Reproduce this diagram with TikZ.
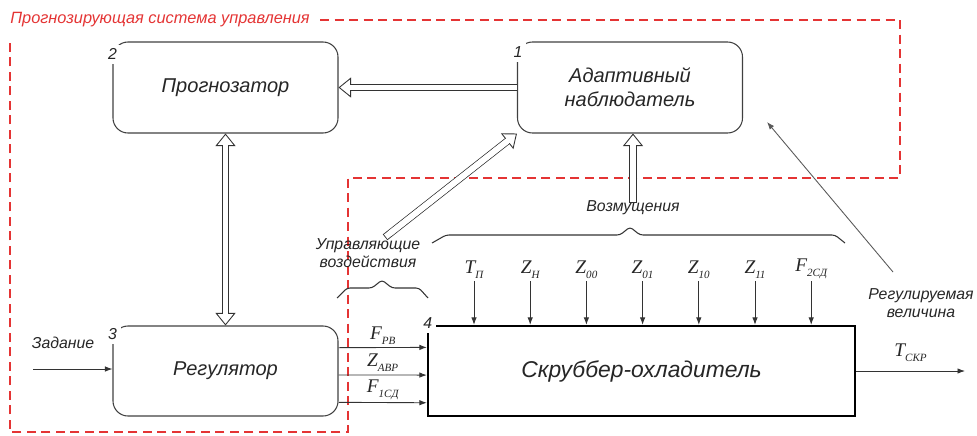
\documentclass[tikz,border=0pt]{standalone}
\usepackage{fontspec}
\setmainfont{Liberation Sans}
\newfontfamily\serfont{Liberation Serif}
\usepackage{xcolor}
\usepackage{tikz}
\usetikzlibrary{arrows.meta, calc}
\definecolor{zonered}{RGB}{228,52,52}
\newcommand{\sgn}[2]{{\serfont\itshape #1}\raisebox{-0.5ex}{\serfont\itshape\fontsize{6.3}{7}\selectfont #2}}

\begin{document}
\begin{tikzpicture}[
      x=0.2mm, y=-0.2mm,
      font=\itshape\fontsize{9}{10.5}\selectfont, text=black!85,
      box/.style={draw=black!75, line width=0.6pt, rounded corners=3mm, align=center, minimum width=45mm, minimum height=18.2mm, font=\itshape\fontsize{11.4}{13.6}\selectfont},
      plant/.style={draw, line width=1.3pt, minimum width=85.4mm, minimum height=18mm, font=\itshape\fontsize{13}{15}\selectfont},
      num/.style={fill=white, inner sep=2.2pt, font=\itshape\fontsize{9}{10}\selectfont},
      sym/.style={inner sep=1pt, font=\fontsize{11}{12}\selectfont},
      txt/.style={align=center, inner sep=1pt},
      sig/.style={-{Latex[length=1.5mm, width=1.1mm]}, line width=0.5pt, draw=black!80},
      blockhead/.tip={Triangle[length=2.5mm, width=4mm, fill=white, line width=0.5pt]},
      hollow/.style={double=white, double distance=3.2pt, line width=0.5pt, draw=black!80, -blockhead,
        postaction={draw=white, line width=3.2pt, -, shorten >=1.9mm}},
      hollowfree/.style={double=white, double distance=3.2pt, line width=0.5pt, draw=black!80, line cap=rect, -blockhead,
        postaction={draw=white, line width=3.2pt, line cap=butt, -, shorten >=1.9mm, shorten <=0.4mm}},
      hollow2/.style={double=white, double distance=3.2pt, line width=0.5pt, draw=black!80, blockhead-blockhead,
        postaction={draw=white, line width=3.2pt, -, shorten >=1.9mm, shorten <=1.9mm}},
      brace/.style={draw=black!80, line width=0.6pt, rounded corners=0.6mm},
      zone/.style={draw=zonered, line width=0.8pt, dash pattern=on 1.8mm off 1.1mm}
    ]
      \useasboundingbox (0,0) rectangle (977,435);

      % blocks
      \node[box] (prog) at (225.5,87.5) {Прогнозатор};
      \node[box] (obs) at (630,87.5) {Адаптивный\\наблюдатель};
      \node[box, minimum height=18mm] (reg) at (225.5,371) {Регулятор};
      \node[plant] (scrub) at (641.5,371) {Скруббер-охладитель};
      \node[num] (n1) at ([shift={(0.2mm,-2.2mm)}]obs.north west) {1};
      \node[num] (n2) at ([shift={(0mm,-2.6mm)}]prog.north west) {2};
      \node[num] (n3) at ([shift={(0mm,-1.8mm)}]reg.north west) {3};
      \node[num] (n4) at ([shift={(0.2mm,0.3mm)}]scrub.north west) {4};

      % prediction loop
      \node[anchor=west, inner sep=0pt, text=zonered, font=\itshape\fontsize{9.3}{11}\selectfont] (title) at (10,20) {Прогнозирующая система управления};
      \draw[zone] ([xshift=2mm]title.east) -- (900,20) -- (900,178) -- (348,178) -- (348,432) -- (10,432) -- (10,43);

      \draw[hollow] (obs.west) -- (prog.east);
      \draw[hollow2] (prog.south) -- (reg.north);

      % inputs
      \node[txt] (task) at (63,343) {Задание};
      \coordinate (in) at (33,369);
      \draw[sig] (in) -- (in -| reg.west);
      \foreach \f/\lab in {0.244/{\sgn{F}{РВ}}, 0.544/{\sgn{Z}{АВР}}, 0.844/{\sgn{F}{1СД}}}
        \draw[sig] ($(reg.north east)!\f!(reg.south east)$) -- ($(scrub.north west)!\f!(scrub.south west)$)
          node[midway, above=0.5pt, sym] {\lab};

      \node[txt] (ctl) at (368,253) {Управляющие\\воздействия};
      \draw[brace] (337,298) -- (347,288) -- (372,288) -- (382,280) -- (392,288) -- (419,288) -- (428,298);
      \coordinate (ctlt) at (388,235);
      \draw[hollowfree] (ctlt) -- (obs.south west);

      % disturbances
      \foreach \lab [count=\i] in {{\sgn{T}{П}}, {\sgn{Z}{Н}}, {\sgn{Z}{00}}, {\sgn{Z}{01}}, {\sgn{Z}{10}}, {\sgn{Z}{11}}, {\sgn{F}{2СД}}} {
        \node[sym, anchor=south] (d\i) at ({474+(\i-1)*56.2},281) {\lab};
        \draw[sig] (d\i.south) -- (d\i.south |- scrub.north);
      }
      \draw[brace] (432,243) -- (446,235) -- (620,235) -- (630,227) -- (640,235) -- (835,235) -- (845,243);
      \node[txt] (dist) at (633,208) {Возмущения};
      \draw[hollowfree] (dist.north) -- (dist.north |- obs.south);

      % output
      \coordinate (out) at (965,371);
      \draw[sig] (scrub.east |- out) -- (out) node[midway, above=4pt, sym] {\sgn{T}{СКР}};
      \node[txt] (rv) at (921,303) {Регулируемая\\величина};
      \coordinate (rvt) at (893,272);
      \coordinate (rvh) at (767,122);
      \draw[sig, draw=black!65] (rvt) -- (rvh);
    \end{tikzpicture}
\end{document}
